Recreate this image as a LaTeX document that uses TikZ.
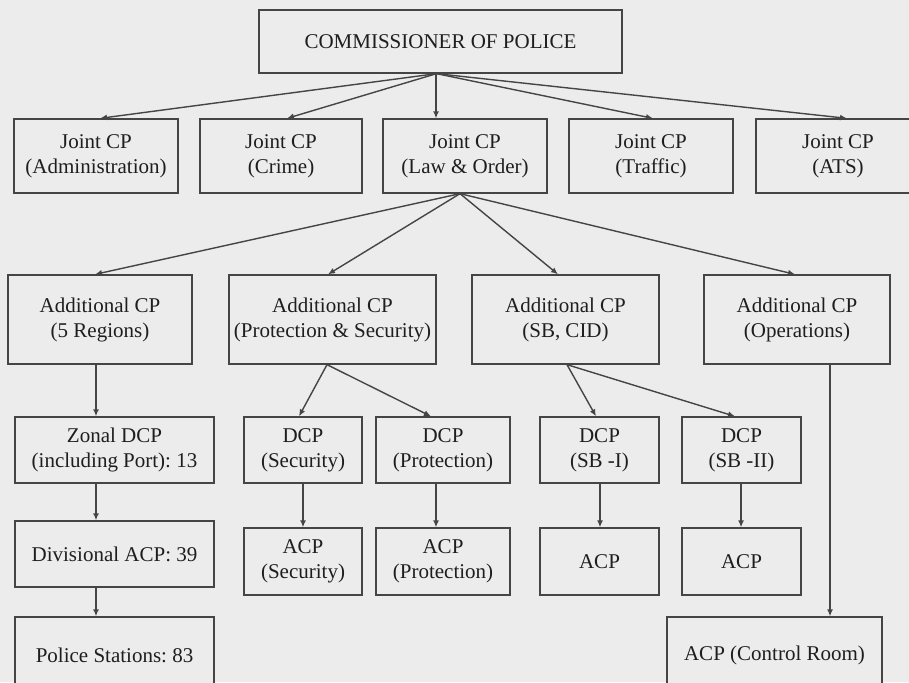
\documentclass[tikz,border=0pt]{standalone}
\usepackage{fontspec}
\setmainfont{Liberation Serif}
\usetikzlibrary{arrows.meta}
\definecolor{bgc}{HTML}{ECECEC}
\definecolor{linec}{HTML}{454545}
\definecolor{textc}{HTML}{1E1E1E}
\frenchspacing
\begin{document}
\begin{tikzpicture}[x=1pt,y=-1pt,
  box/.style={draw=linec, line width=1.3pt, fill=bgc, rectangle, inner sep=0pt, align=center,
    text=textc, font=\fontsize{21}{25}\selectfont\frenchspacing},
  conn/.style={draw=linec, line width=1.4pt, -{Latex[length=7pt,width=6pt]}}]
\fill[bgc] (0,0) rectangle (909,682);
\useasboundingbox (0,0) rectangle (909,682);
\clip (0,0) rectangle (909,682);
% level 1
\node[box, minimum width=363pt, minimum height=63pt] (comm) at (440.5,41.5) {COMMISSIONER OF POLICE};
% level 2
\node[box, minimum width=164pt, minimum height=74pt] (jadm) at (96,156) {Joint CP\\(Administration)};
\node[box, minimum width=162pt, minimum height=74pt] (jcri) at (281,156) {Joint CP\\(Crime)};
\node[box, minimum width=164pt, minimum height=74pt] (jlo) at (465,156) {Joint CP\\(Law \& Order)};
\node[box, minimum width=164pt, minimum height=74pt] (jtra) at (651,156) {Joint CP\\(Traffic)};
\node[box, minimum width=164pt, minimum height=74pt] (jats) at (838,156) {Joint CP\\(ATS)};
% level 3
\node[box, minimum width=184pt, minimum height=89pt] (a5) at (100,319.5) {Additional CP\\(5 Regions)};
\node[box, minimum width=207pt, minimum height=89pt] (aps) at (332.5,319.5) {Additional CP\\(Protection \& Security)};
\node[box, minimum width=187pt, minimum height=89pt] (asb) at (565.5,319.5) {Additional CP\\(SB, CID)};
\node[box, minimum width=186pt, minimum height=89pt] (aop) at (797,319.5) {Additional CP\\(Operations)};
% level 4
\node[box, minimum width=199pt, minimum height=66pt] (zdcp) at (114.5,450) {Zonal DCP\\(including Port): 13};
\node[box, minimum width=118pt, minimum height=66pt] (dsec) at (303,450) {DCP\\(Security)};
\node[box, minimum width=134pt, minimum height=66pt] (dpro) at (443,450) {DCP\\(Protection)};
\node[box, minimum width=119pt, minimum height=66pt] (dsb1) at (599.5,450) {DCP\\(SB -I)};
\node[box, minimum width=119pt, minimum height=66pt] (dsb2) at (741.5,450) {DCP\\(SB -II)};
% level 5
\node[box, minimum width=199pt, minimum height=66pt] (dacp) at (114.5,554) {Divisional ACP: 39};
\node[box, minimum width=118pt, minimum height=67pt] (asec) at (303,561.5) {ACP\\(Security)};
\node[box, minimum width=134pt, minimum height=67pt] (apro) at (443,561.5) {ACP\\(Protection)};
\node[box, minimum width=119pt, minimum height=67pt] (acp1) at (599.5,561.5) {ACP};
\node[box, minimum width=119pt, minimum height=67pt] (acp2) at (741.5,561.5) {ACP};
% level 6
\node[box, minimum width=199pt, minimum height=76pt] (ps) at (114.5,655) {Police Stations: 83};
\node[box, minimum width=215pt, minimum height=76pt] (acr) at (774.5,655) {ACP (Control Room)};
% connectors
\draw[conn] ([xshift=-4]comm.south) -- ([xshift=4]jadm.north);
\draw[conn] ([xshift=-4]comm.south) -- ([xshift=6]jcri.north);
\draw[conn] ([xshift=-4.5]comm.south) -- ([xshift=-4.5]comm.south |- jlo.north);
\draw[conn] ([xshift=-4]comm.south) -- ([xshift=2]jtra.north);
\draw[conn] ([xshift=-4]comm.south) -- ([xshift=9]jats.north);
\draw[conn] ([xshift=-5]jlo.south) -- ([xshift=-5]a5.north);
\draw[conn] ([xshift=-5]jlo.south) -- ([xshift=-4.5]aps.north);
\draw[conn] ([xshift=-5]jlo.south) -- ([xshift=-7.5]asb.north);
\draw[conn] ([xshift=-5]jlo.south) -- ([xshift=-2]aop.north);
\draw[conn] ([xshift=-4]a5.south) -- ([xshift=-4]a5.south |- zdcp.north);
\draw[conn] ([xshift=-5.5]aps.south) -- ([xshift=-4]dsec.north);
\draw[conn] ([xshift=-5.5]aps.south) -- ([xshift=-12]dpro.north);
\draw[conn] ([xshift=1.5]asb.south) -- ([xshift=-3.5]dsb1.north);
\draw[conn] ([xshift=1.5]asb.south) -- ([xshift=-6.5]dsb2.north);
\draw[conn] ([xshift=-18.5]zdcp.south) -- ([xshift=-18.5]dacp.north);
\draw[conn] ([xshift=-18.5]dacp.south) -- ([xshift=-18.5]ps.north);
\draw[conn] (dsec.south) -- (asec.north);
\draw[conn] ([xshift=-7]dpro.south) -- ([xshift=-7]apro.north);
\draw[conn] ([xshift=0.5]dsb1.south) -- ([xshift=0.5]acp1.north);
\draw[conn] ([xshift=-0.5]dsb2.south) -- ([xshift=-0.5]acp2.north);
\draw[conn] ([xshift=33]aop.south) -- ([xshift=33]aop.south |- acr.north);
\end{tikzpicture}
\end{document}
